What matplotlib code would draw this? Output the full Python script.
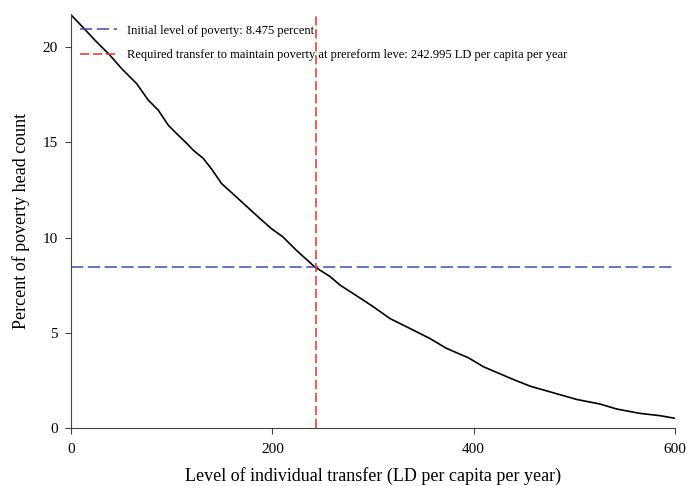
import matplotlib
matplotlib.use("Agg")
import matplotlib.pyplot as plt
import numpy as np

# values
transfer = [0, 10, 23.8, 38.7, 50.3, 65.2, 76.8, 86.8, 96.7, 105, 115, 121.5, 131.4,
            139.7, 149.6, 164.2, 185.7, 198.9, 210.5, 223.8, 242, 257.3, 267.2,
            290.3, 300.3, 316.9, 336.7, 356.6, 373.2, 394.7, 409.6, 439.4, 456,
            479.2, 502.4, 525.5, 542, 565, 585, 600]
headcount = [21.7, 21.15, 20.37, 19.58, 18.88, 18.09, 17.22, 16.69, 15.9, 15.46,
             14.95, 14.59, 14.16, 13.6, 12.84, 12.14, 11.1, 10.48, 10.04, 9.34,
             8.47, 7.96, 7.51, 6.72, 6.37, 5.75, 5.23, 4.7, 4.18, 3.69, 3.22, 2.55,
             2.2, 1.85, 1.5, 1.26, 1.0, 0.77, 0.65, 0.51]

initial_poverty = 8.475
required_transfer = 242.995

plt.rcParams['font.family'] = ['Liberation Serif', 'DejaVu Serif']

fig = plt.figure(figsize=(6.88, 4.86), dpi=100)
ax = fig.add_axes([0.1032, 0.1193, 0.8779, 0.852])

ax.plot(transfer, headcount, color="black", linewidth=1.2)
ax.axhline(initial_poverty, color="#3b4fa6", linewidth=1.1, dashes=(8, 3),
           label="Initial level of poverty: 8.475 percent")
ax.axvline(required_transfer, color="#e8322a", linewidth=1.1, dashes=(6, 2.5),
           label="Required transfer to maintain poverty at prereform leve: 242.995 LD per capita per year")

ax.set_xlim(0, 600)
ax.set_ylim(0, 21.75)
ax.set_xticks([0, 200, 400, 600])
ax.set_yticks([0, 5, 10, 15, 20])

for side in ["top", "right"]:
    ax.spines[side].set_visible(False)
for side in ["left", "bottom"]:
    ax.spines[side].set_color("#444444")
ax.tick_params(direction="out", length=4.5, color="#444444", labelsize=11)
ax.tick_params(axis="x", pad=6)
ax.tick_params(axis="y", pad=5)

ax.set_xlabel("Level of individual transfer (LD per capita per year)", fontsize=13, labelpad=8)
ax.set_ylabel("Percent of poverty head count", fontsize=13, labelpad=9)

ax.legend(loc="upper left", frameon=False, fontsize=9, handlelength=3.0,
          handletextpad=0.8, labelspacing=1.0,
          bbox_to_anchor=(0.0, 0.995), borderaxespad=0.3)

fig.savefig("out.png", dpi=100)
